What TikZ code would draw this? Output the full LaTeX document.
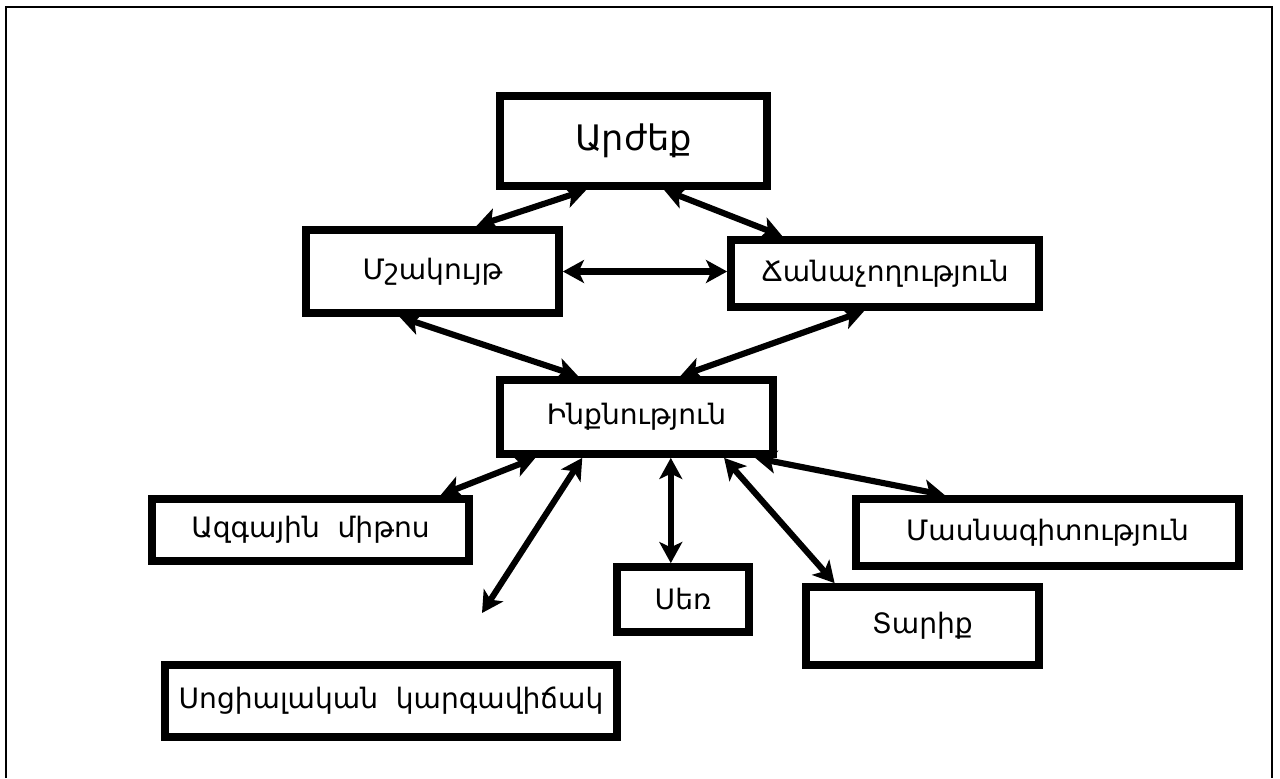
\documentclass[tikz,border=0pt]{standalone}
\usepackage{fontspec}
\setmainfont{DejaVu Sans}
\usetikzlibrary{arrows.meta}
\tikzset{
    box/.style={draw, line width=4.4pt, inner sep=0pt, font=\fontsize{16}{19}\selectfont},
    link/.style={<->, line width=3.5pt}
}
\begin{document}
\begin{tikzpicture}[x=0.02cm, y=-0.02cm, >={Stealth[length=12pt,width=13pt,inset=3pt]}]
\useasboundingbox (0,0) rectangle (1280,778);
\draw[line width=1.3pt] (6,778)--(6,7)--(1272,7)--(1272,778);

\node[box, minimum width=5.34cm, minimum height=1.80cm, font=\fontsize{20}{24}\selectfont] (arzheq) at (633.5,141) {Արժեք};
\node[box, minimum width=5.06cm, minimum height=1.66cm] (mshakuyt) at (432.5,271.5) {Մշակույթ};
\node[box, minimum width=6.16cm, minimum height=1.34cm] (chanach) at (885,273.5) {Ճանաչողություն};
\node[box, minimum width=5.46cm, minimum height=1.48cm] (inqnutyun) at (636.5,417) {Ինքնություն};
\node[box, minimum width=6.34cm, minimum height=1.24cm] (azgayin) at (310.5,530) {Ազգային\ \ միթոս};
\node[box, minimum width=2.64cm, minimum height=1.30cm] (ser) at (683,599.5) {Սեռ};
\node[box, minimum width=4.66cm, minimum height=1.56cm] (tariq) at (922.5,626) {Տարիք};
\node[box, minimum width=7.66cm, minimum height=1.34cm] (masnag) at (1047.5,532.5) {Մասնագիտություն};
\node[box, minimum width=9.04cm, minimum height=1.44cm] (social) at (391,701) {Սոցիալական\ \ կարգավիճակ};
\coordinate (free) at (482,613);

\draw[link] (mshakuyt.east) -- (mshakuyt.east -| chanach.west);
\draw[link] (inqnutyun.310) -- (inqnutyun.310 |- ser.north);
\foreach \a/\b in {arzheq.226/mshakuyt.46, arzheq.302/chanach.160,
    mshakuyt.234/inqnutyun.145, chanach.241/inqnutyun.43,
    inqnutyun.202/azgayin.15, inqnutyun.217/free,
    inqnutyun.335/tariq.154, inqnutyun.341/masnag.160}
{
    \draw[link] (\a) -- (\b);
}
\end{tikzpicture}
\end{document}
